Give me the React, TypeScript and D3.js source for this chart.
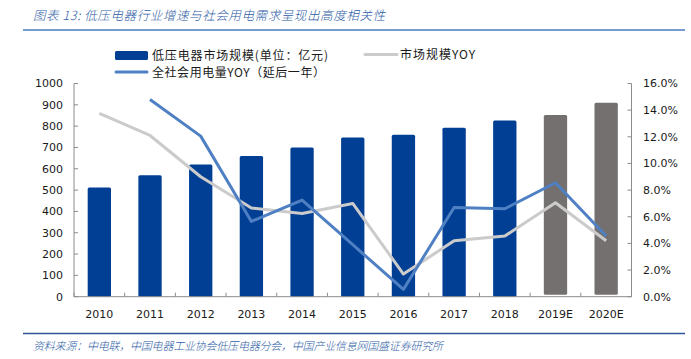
import React from "react";
import * as d3 from "d3";

const years = ["2010", "2011", "2012", "2013", "2014", "2015", "2016", "2017", "2018", "2019E", "2020E"];
const marketSize = [512, 570, 620, 660, 700, 747, 760, 792, 827, 852, 910];
const marketYoY = [13.75, 12.1, 9.0, 6.65, 6.25, 7.0, 1.7, 4.2, 4.55, 7.05, 4.2];
const powerYoY: (number | null)[] = [null, 14.8, 12.05, 5.65, 7.25, 3.9, 0.55, 6.7, 6.6, 8.55, 4.55];
const forecastYears = ["2019E", "2020E"];
const leftTicks = [0, 100, 200, 300, 400, 500, 600, 700, 800, 900, 1000];
const rightTicks = [0, 2, 4, 6, 8, 10, 12, 14, 16];
const titleText = "图表 13:  低压电器行业增速与社会用电需求呈现出高度相关性";
const sourceText = "资料来源：中电联，中国电器工业协会低压电器分会，中国产业信息网国盛证券研究所";
const legendBar = "低压电器市场规模(单位：亿元)";
const legendGray = "市场规模YOY";
const legendBlue = "全社会用电量YOY（延后一年）";

const W = 691;
const H = 359;
const plot = { left: 74, right: 631.5, top: 83.5, bottom: 296.7 };

const BAR_BLUE = "#003f93";
const BAR_GRAY = "#747070";
const LINE_BLUE = "#4f80c4";
const LINE_GRAY = "#cbcbcb";
const AXIS = "#8c8c8c";
const TEXT = "#1a1a1a";
const TITLE_BLUE = "#2d5ca6";

const numFont = "'DejaVu Sans', Verdana, sans-serif";
const cjkFont = "'Noto Sans CJK SC', 'DejaVu Sans', sans-serif";

export default function App() {
  const x = d3.scaleBand<string>().domain(years).range([plot.left, plot.right]).paddingInner(0).paddingOuter(0);
  const yL = d3.scaleLinear().domain([0, 1000]).range([plot.bottom, plot.top]);
  const yR = d3.scaleLinear().domain([0, 16]).range([plot.bottom, plot.top]);
  const bw = x.bandwidth();
  const barW = bw * 0.46;
  const cx = (d: string) => (x(d) as number) + bw / 2;

  const grayLine = d3
    .line<number>()
    .x((_, i) => cx(years[i]))
    .y((d) => yR(d))(marketYoY) as string;

  const blueLine = d3
    .line<number | null>()
    .defined((d) => d !== null)
    .x((_, i) => cx(years[i]))
    .y((d) => yR(d as number))(powerYoY) as string;

  const boundaries = d3.range(years.length + 1).map((i) => plot.left + i * bw);

  return (
    <div style={{ position: "absolute", left: 0, top: 0 }}>
      <svg width={W} height={H} style={{ display: "block", background: "#fff" }}>
        {/* Title */}
        <text
          x={33}
          y={20}
          fontFamily={cjkFont}
          fontSize={12.5}
          fontStyle="italic"
          fontWeight={300}
          fill={TITLE_BLUE}
          textLength={352}
          lengthAdjust="spacing"
        >
          {titleText}
        </text>
        <line x1={23} x2={685} y1={30} y2={30} stroke="#4a78c0" strokeWidth={1.5} />

        {/* Legend */}
        <rect x={115} y={51} width={33} height={9} rx={1.5} fill={BAR_BLUE} />
        <text x={152} y={60} fontFamily={cjkFont} fontSize={12} fill={TEXT} textLength={176} lengthAdjust="spacing">
          {legendBar}
        </text>
        <line x1={365} x2={397} y1={54.5} y2={54.5} stroke={LINE_GRAY} strokeWidth={3} strokeLinecap="round" />
        <text x={400} y={59} fontFamily={cjkFont} fontSize={12} fill={TEXT} textLength={75} lengthAdjust="spacing">
          {legendGray}
        </text>
        <line x1={116} x2={147} y1={72} y2={72} stroke={LINE_BLUE} strokeWidth={3} strokeLinecap="round" />
        <text x={152} y={76.5} fontFamily={cjkFont} fontSize={12} fill={TEXT} textLength={173} lengthAdjust="spacing">
          {legendBlue}
        </text>

        {/* Bars */}
        {years.map((yr, i) => {
          const forecast = forecastYears.includes(yr);
          return (
            <rect
              key={yr}
              x={cx(yr) - barW / 2}
              y={yL(marketSize[i])}
              width={barW}
              height={(forecast ? plot.bottom - 2 : plot.bottom) - yL(marketSize[i])}
              rx={1.5}
              fill={forecast ? BAR_GRAY : BAR_BLUE}
            />
          );
        })}

        {/* Axes */}
        <line x1={plot.left} x2={plot.left} y1={plot.top} y2={plot.bottom} stroke={AXIS} />
        <line x1={plot.right} x2={plot.right} y1={plot.top} y2={plot.bottom} stroke={AXIS} />
        <line x1={plot.left} x2={plot.right} y1={plot.bottom} y2={plot.bottom} stroke={AXIS} />
        {leftTicks.map((t) => (
          <g key={"l" + t}>
            <line x1={plot.left} x2={plot.left + 4} y1={yL(t)} y2={yL(t)} stroke={AXIS} />
            <text
              x={63}
              y={yL(t)}
              dy="0.36em"
              textAnchor="end"
              fontFamily={numFont}
              fontSize={11}
              fill={TEXT}
            >
              {t}
            </text>
          </g>
        ))}
        {rightTicks.map((t) => (
          <g key={"r" + t}>
            <line x1={plot.right - 4} x2={plot.right} y1={yR(t)} y2={yR(t)} stroke={AXIS} />
            <text x={643} y={yR(t)} dy="0.36em" fontFamily={numFont} fontSize={11} fill={TEXT}>
              {t.toFixed(1) + "%"}
            </text>
          </g>
        ))}
        {boundaries.map((b, i) => (
          <line key={"b" + i} x1={b} x2={b} y1={plot.bottom - 4} y2={plot.bottom} stroke={AXIS} />
        ))}
        {years.map((yr) => (
          <text
            key={"x" + yr}
            x={cx(yr)}
            y={318}
            textAnchor="middle"
            fontFamily={numFont}
            fontSize={11}
            fill={TEXT}
          >
            {yr}
          </text>
        ))}

        {/* Lines */}
        <path d={grayLine} fill="none" stroke={LINE_GRAY} strokeWidth={3} strokeLinejoin="round" />
        <path d={blueLine} fill="none" stroke={LINE_BLUE} strokeWidth={3} strokeLinejoin="round" />

        {/* Source */}
        <line x1={23} x2={685} y1={333.5} y2={333.5} stroke="#2f5597" strokeWidth={1.5} />
        <text
          x={33}
          y={350}
          fontFamily={cjkFont}
          fontSize={11}
          fontStyle="italic"
          fontWeight={300}
          fill={TITLE_BLUE}
          textLength={410}
          lengthAdjust="spacing"
        >
          {sourceText}
        </text>
      </svg>
    </div>
  );
}
